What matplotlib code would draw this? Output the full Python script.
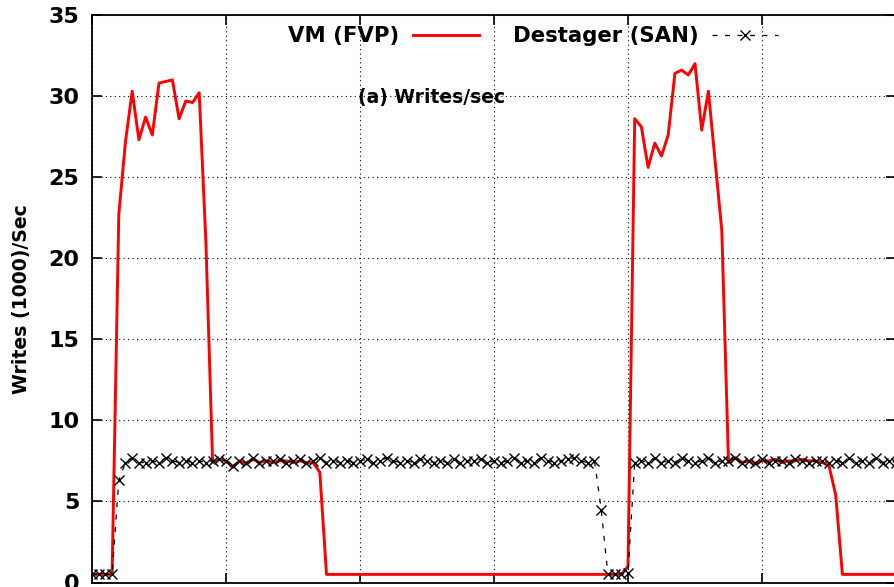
import matplotlib
matplotlib.use("Agg")
import matplotlib.pyplot as plt
import numpy as np

# ---------------- data (thousand writes / sec, one sample per step) ----------------
vm_fvp = [
    0.5, 0.5, 0.5, 0.5,
    22.7, 27.2, 30.3, 27.3, 28.7, 27.6, 30.8, 30.9, 31.0, 28.6, 29.7, 29.6, 30.2, 21.0,
    7.4, 7.6, 7.5, 7.1, 7.5, 7.3, 7.6, 7.4, 7.5, 7.4, 7.5, 7.5, 7.4, 7.5, 7.4, 7.4,
    6.8,
    0.5, 0.5, 0.5, 0.5, 0.5, 0.5, 0.5, 0.5, 0.5, 0.5, 0.5, 0.5, 0.5, 0.5, 0.5,
    0.5, 0.5, 0.5, 0.5, 0.5, 0.5, 0.5, 0.5, 0.5, 0.5, 0.5, 0.5, 0.5, 0.5, 0.5,
    0.5, 0.5, 0.5, 0.5, 0.5, 0.5, 0.5, 0.5, 0.5, 0.5, 0.5, 0.5, 0.5, 0.5, 0.5,
    1.0,
    28.6, 28.1, 25.6, 27.1, 26.3, 27.6, 31.4, 31.6, 31.3, 32.0, 27.9, 30.3, 26.0, 21.7,
    7.4, 7.7, 7.4, 7.5, 7.3, 7.5, 7.5, 7.6, 7.4, 7.5, 7.5, 7.6, 7.5, 7.5, 7.4,
    7.2, 5.4,
    0.5, 0.5, 0.5, 0.5, 0.5, 0.5, 0.5, 0.5, 0.5,
]

destager_san = [
    0.5, 0.5, 0.5, 0.5,
    6.3,
    7.4, 7.7, 7.4, 7.4, 7.5, 7.4, 7.7, 7.5, 7.4, 7.5, 7.4, 7.5, 7.4,
    7.5, 7.6, 7.5, 7.2, 7.5, 7.4, 7.7, 7.4, 7.5, 7.5, 7.6, 7.4, 7.5, 7.6, 7.4, 7.5,
    7.7, 7.4, 7.5, 7.4, 7.5, 7.4, 7.5, 7.6, 7.4, 7.5, 7.7, 7.5, 7.4, 7.5,
    7.4, 7.6, 7.5, 7.4, 7.5, 7.4, 7.6, 7.4, 7.5, 7.5, 7.6, 7.4, 7.5, 7.4,
    7.5, 7.7, 7.4, 7.5, 7.4, 7.7, 7.5, 7.4, 7.5, 7.6, 7.7, 7.5, 7.4, 7.5,
    4.5,
    0.5, 0.5, 0.5, 0.6,
    7.4, 7.5, 7.4, 7.7, 7.4, 7.5, 7.4, 7.7, 7.5, 7.4, 7.5, 7.7, 7.4, 7.5,
    7.5, 7.7, 7.4, 7.5, 7.4, 7.6, 7.4, 7.5, 7.5, 7.4, 7.6, 7.5, 7.4, 7.5,
    7.5, 7.4, 7.5, 7.4, 7.7, 7.4, 7.5, 7.4, 7.7, 7.4, 7.5, 7.4,
]

samples = list(range(len(vm_fvp)))
samples_d = list(range(len(destager_san)))

y_ticks = [0, 5, 10, 15, 20, 25, 30, 35]
x_ticks = [0, 20, 40, 60, 80, 100, 120]

series_labels = ["VM (FVP)", "Destager (SAN)"]
y_label = "Writes (1000)/Sec"
panel_title = "(a) Writes/sec"

# ---------------- figure ----------------
W, H = 895, 587
fig = plt.figure(figsize=(W / 100, H / 100), dpi=100)
left, right, top, bottom = 92, 896, 15, 582.5
ax = fig.add_axes([left / W, (H - bottom) / H, (right - left) / W, (bottom - top) / H])

font = dict(family="DejaVu Sans", weight="bold")

ax.plot(samples, vm_fvp, color="#ff0000", lw=2.1, label=series_labels[0], zorder=3)
ax.plot(samples_d, destager_san, color="black", lw=0.9, ls=(0, (4, 6)),
        marker="x", ms=7.5, mew=1.0, label=series_labels[1], zorder=4)

ax.set_xlim(0, 120)
ax.set_ylim(0, 35)
ax.set_yticks(y_ticks)
ax.set_xticks(x_ticks)
ax.set_xticklabels([])
ax.set_yticklabels([str(v) for v in y_ticks], fontsize=16, **font)

ax.tick_params(direction="in", length=7, width=1.2, top=True, right=True, pad=9)
for s in ax.spines.values():
    s.set_linewidth(1.3)

ax.grid(True, color="black", lw=0.8, ls=(0, (1, 3)))
ax.set_axisbelow(True)

ax.set_ylabel(y_label, fontsize=13.6, **font)
ax.yaxis.set_label_coords((22 - left) / (right - left), 0.5)
ax.yaxis.label.set_va("center")

ax.text((431.7 - left) / (right - left), (bottom - 98) / (bottom - top), panel_title,
        transform=ax.transAxes, ha="center", va="center", fontsize=13.5, **font)

leg = ax.legend(loc="upper center", bbox_to_anchor=((533 - left) / (right - left), 1.014),
                ncol=2, frameon=False, markerfirst=False, handlelength=3.1,
                handletextpad=0.65, columnspacing=1.6, numpoints=1,
                prop=dict(size=15.3, **font))

fig.savefig("out.png", dpi=100)
